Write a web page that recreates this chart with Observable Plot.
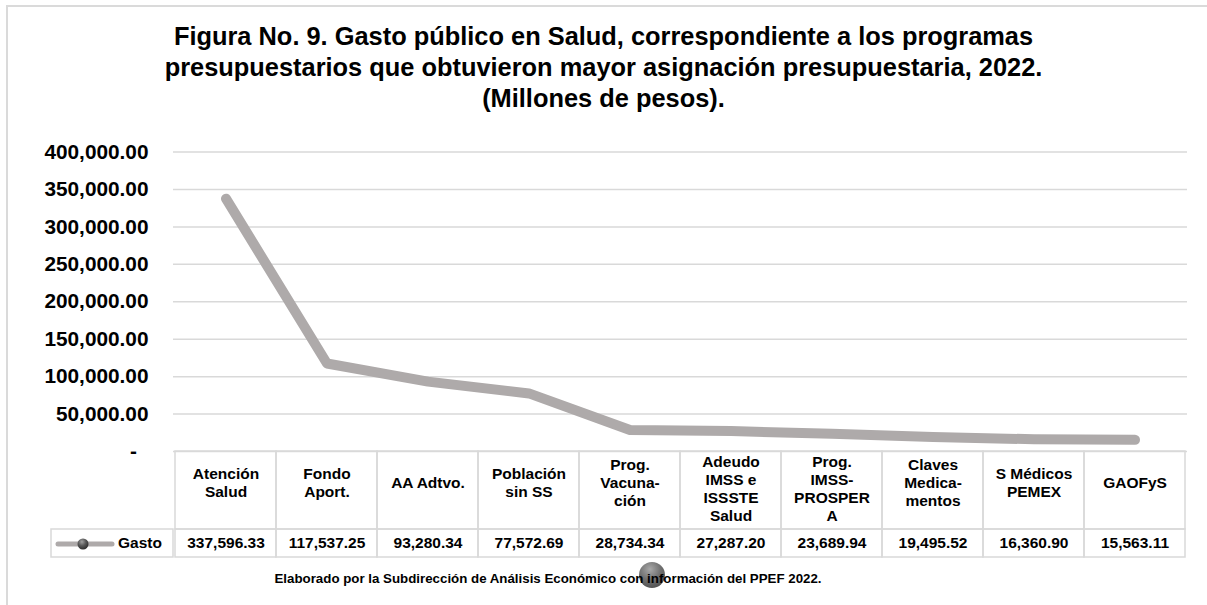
<!DOCTYPE html>
<html><head><meta charset="utf-8">
<script src="https://cdn.jsdelivr.net/npm/d3@7"></script>
<script src="https://cdn.jsdelivr.net/npm/@observablehq/plot@0.6"></script>
<style>
html,body{margin:0;padding:0;background:#fff;}
body{width:1207px;height:605px;position:relative;overflow:hidden;font-family:"Liberation Sans",Arial,sans-serif;color:#000;}
#border{position:absolute;left:6px;top:5px;right:0;bottom:0;border-left:2px solid #dadada;border-top:2px solid #dadada;}
#title{position:absolute;left:0;top:21px;width:1207px;text-align:center;font-weight:bold;font-size:25.4px;line-height:31px;}
#chart{position:absolute;left:0;top:120px;}
#caption{position:absolute;left:0;top:571px;width:1096px;text-align:center;font-weight:bold;font-size:13.3px;line-height:16px;z-index:2;}
#sphere{position:absolute;left:639px;top:562px;width:26px;height:26px;border-radius:50%;background:radial-gradient(circle at 42% 28%, #a8a8a8 0%, #707070 45%, #404040 100%);z-index:1;}
#chart svg g[aria-label="y-axis tick label"] text{font-size:20.8px;font-weight:bold;}
</style></head>
<body>
<div id="border"></div>
<div id="title">Figura No. 9. Gasto público en Salud, correspondiente a los programas<br>presupuestarios que obtuvieron mayor asignación presupuestaria, 2022.<br>(Millones de pesos).</div>
<div id="chart"></div>
<div id="sphere"></div>
<div id="caption">Elaborado por la Subdirección de Análisis Económico con información del PPEF 2022.</div>
<script>
// ---- data ----
const categories = ["Atención\nSalud", "Fondo\nAport.", "AA Adtvo.", "Población\nsin SS", "Prog.\nVacuna-\nción", "Adeudo\nIMSS e\nISSSTE\nSalud", "Prog.\nIMSS-\nPROSPER\nA", "Claves\nMedica-\nmentos", "S Médicos\nPEMEX", "GAOFyS"];
const gasto = [337596.33, 117537.25, 93280.34, 77572.69, 28734.34, 27287.20, 23689.94, 19495.52, 16360.90, 15563.11];
const seriesName = "Gasto";
const yTicks = [0, 50000, 100000, 150000, 200000, 250000, 300000, 350000, 400000];

// ---- layout ----
const W = 1207, H = 445;
const mL = 173, mR = 20, mT = 31.5, mB = 114;
const headerH = 78, rowH = 28, legendLeft = 51;
const lineColor = "#AEAAAA", gridColor = "#D9D9D9";
const tableFont = 15.5;

const data = categories.map((c, i) => ({cat: c, value: gasto[i]}));
const fmt = d3.format(",.2f");
const nLines = d => d.cat.split("\n").length;

function legendMark(index, scales, values, dims) {
  const g = d3.create("svg:g");
  const defs = g.append("defs");
  const grad = defs.append("radialGradient").attr("id", "legSphere").attr("cx", "40%").attr("cy", "30%").attr("r", "70%");
  grad.append("stop").attr("offset", "0%").attr("stop-color", "#a0a0a0");
  grad.append("stop").attr("offset", "50%").attr("stop-color", "#5a5a5a");
  grad.append("stop").attr("offset", "100%").attr("stop-color", "#2e2e2e");
  const top = dims.height - dims.marginBottom + headerH;
  const cy = top + rowH / 2;
  g.append("rect").attr("x", legendLeft).attr("y", top)
    .attr("width", dims.marginLeft - legendLeft).attr("height", rowH)
    .attr("fill", "none").attr("stroke", gridColor).attr("stroke-width", 1.5);
  g.append("line").attr("x1", 58).attr("x2", 112).attr("y1", cy + 1).attr("y2", cy + 1)
    .attr("stroke", lineColor).attr("stroke-width", 5).attr("stroke-linecap", "round");
  g.append("circle").attr("cx", 83).attr("cy", cy + 1).attr("r", 5.5).attr("fill", "url(#legSphere)");
  g.append("text").attr("x", 118).attr("y", cy).attr("dy", "0.35em").attr("text-anchor", "start")
    .attr("font-size", tableFont).attr("font-weight", "bold").attr("fill", "#000").text(seriesName);
  return g.node();
}

const headerText = (filter, dy) => Plot.text(data, {
  filter, x: "cat", text: "cat", frameAnchor: "bottom", lineAnchor: "middle", dy,
  fontSize: tableFont, fontWeight: "bold", lineHeight: 1.15, fill: "#000"
});

const chart = Plot.plot({
  width: W, height: H,
  marginLeft: mL, marginRight: mR, marginTop: mT, marginBottom: mB,
  style: {fontFamily: "Liberation Sans, Arial, sans-serif", color: "#000", background: "transparent", overflow: "visible"},
  x: {type: "band", domain: categories, padding: 0, axis: null},
  y: {domain: [0, 400000], axis: null},
  marks: [
    Plot.gridY(yTicks, {stroke: gridColor, strokeOpacity: 1, strokeWidth: 1.5}),
    Plot.axisY(yTicks, {tickFormat: d => d === 0 ? "-\u00a0\u00a0" : fmt(d), tickSize: 0, tickPadding: 25, fontSize: 20.8, fontWeight: "bold", label: null}),
    Plot.barY(data, {x: "cat", y1: 0, y2: 0, insetBottom: -headerH, fill: "none", stroke: gridColor, strokeWidth: 1.5}),
    Plot.barY(data, {x: "cat", y1: 0, y2: 0, insetTop: headerH, insetBottom: -(headerH + rowH), fill: "none", stroke: gridColor, strokeWidth: 1.5}),
    headerText(d => nLines(d) < 4, 31),
    headerText(d => nLines(d) >= 4, 37),
    Plot.text(data, {x: "cat", text: d => fmt(d.value), frameAnchor: "bottom", lineAnchor: "middle", dy: headerH + rowH / 2, fontSize: tableFont, fontWeight: "bold", fill: "#000"}),
    Plot.line(data, {x: "cat", y: "value", stroke: lineColor, strokeWidth: 10, strokeLinecap: "round", strokeLinejoin: "round"}),
    legendMark
  ]
});
document.getElementById("chart").appendChild(chart);
</script>
</body></html>
